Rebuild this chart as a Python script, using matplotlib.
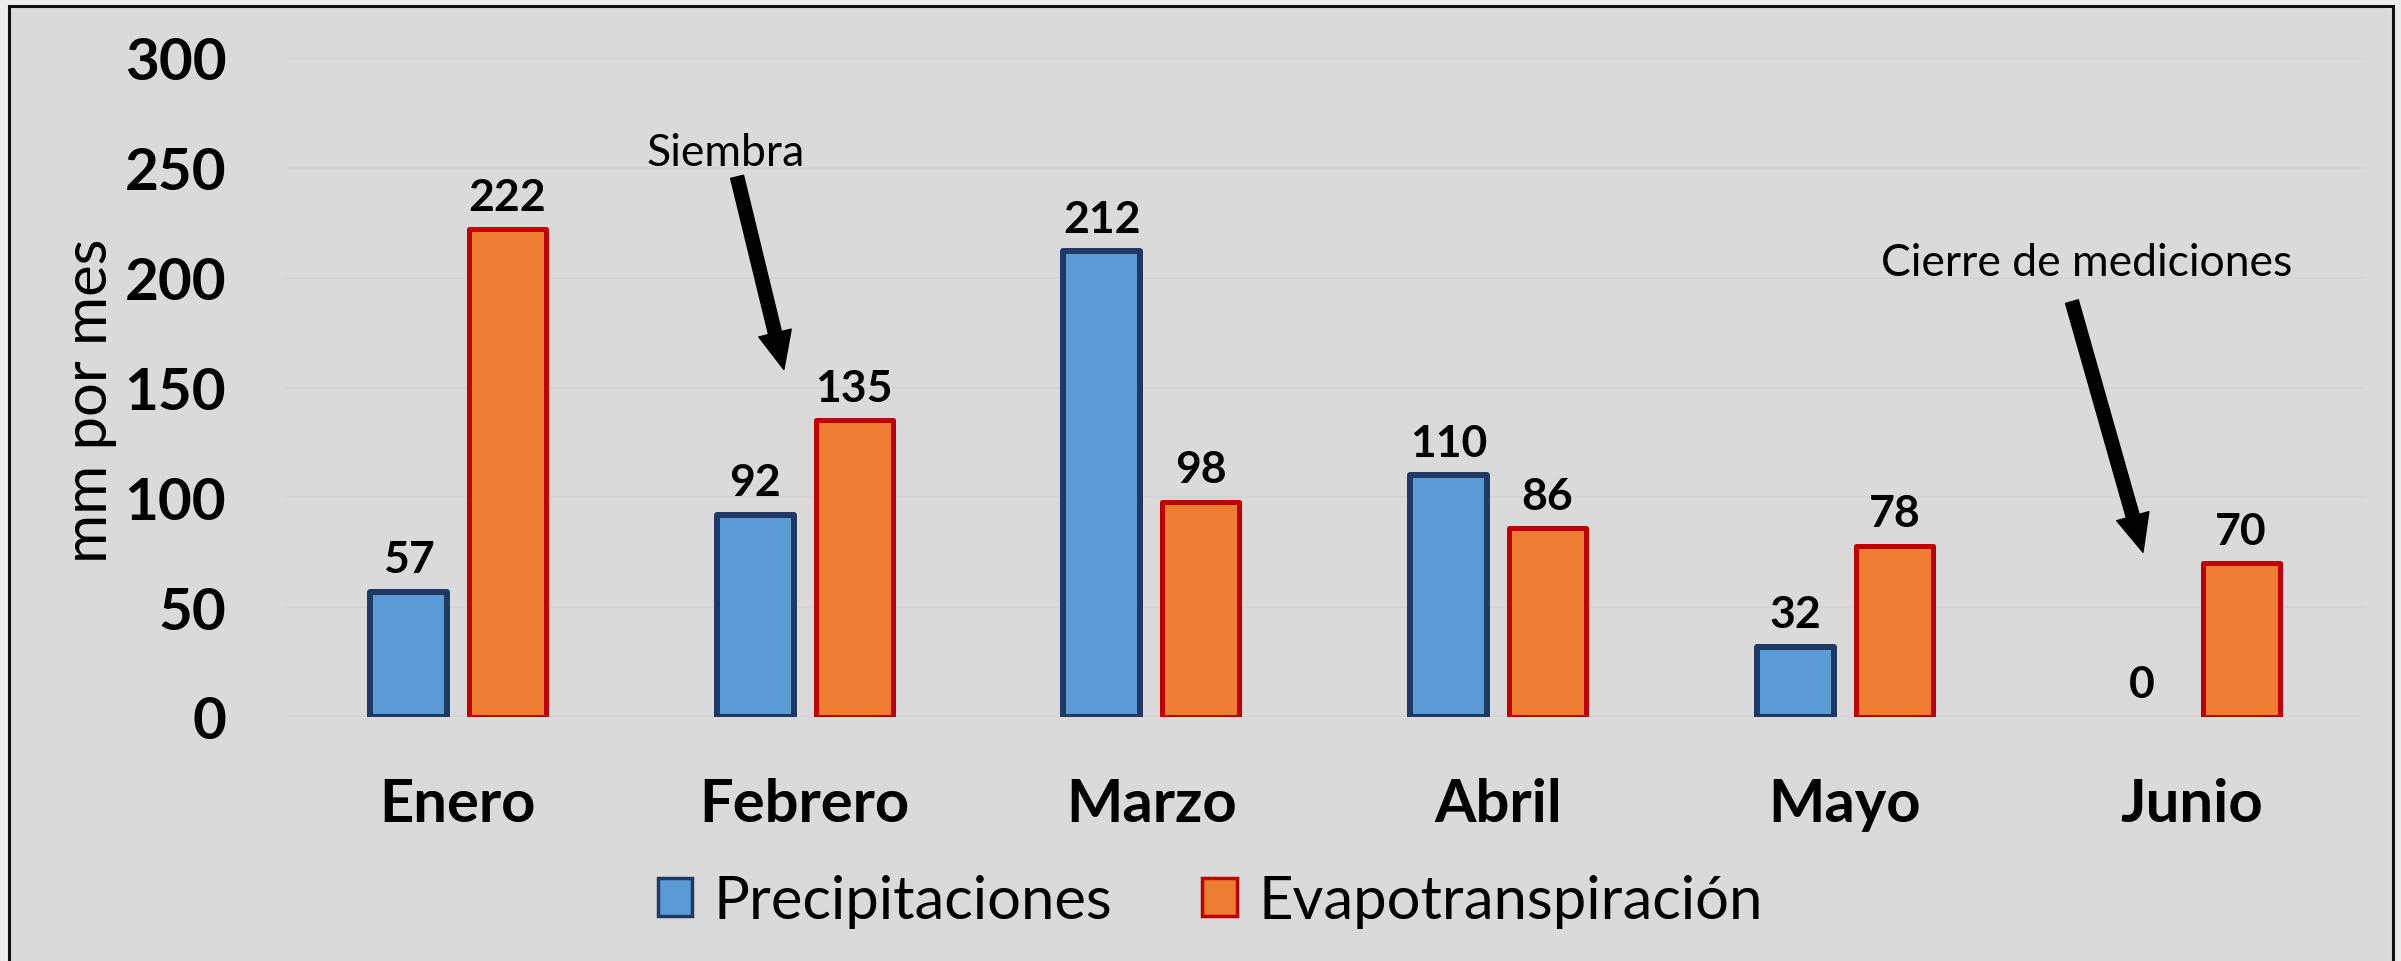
import numpy as np
import matplotlib
matplotlib.use("Agg")
import matplotlib.pyplot as plt
from matplotlib.patches import Rectangle, Patch

# ---- data ----
months = ["Enero", "Febrero", "Marzo", "Abril", "Mayo", "Junio"]
precipitaciones = [57, 92, 212, 110, 32, 0]
evapotranspiracion = [222, 135, 98, 86, 78, 70]
yticks = [0, 50, 100, 150, 200, 250, 300]
series_names = ["Precipitaciones", "Evapotranspiración"]

plt.rcParams['font.family'] = ['Lato', 'DejaVu Sans']

W, H = 2401, 962
fig = plt.figure(figsize=(W / 100, H / 100), dpi=100)
fig.patch.set_facecolor('#ECECEA')

# outer frame
frame = Rectangle((9 / W, -0.02), (2393 - 9) / W, 1 - 7 / H + 0.02,
                  transform=fig.transFigure, facecolor='#DADADA',
                  edgecolor='#111111', lw=2.2, zorder=-5)
fig.patches.append(frame)

ax = fig.add_axes([284.6 / W, 1 - 718 / H, (2364.9 - 284.6) / W, (718 - 59) / H])
ax.set_facecolor('none')
ax.set_zorder(2)
for s in ax.spines.values():
    s.set_visible(False)

x = np.arange(len(months))
off = 0.1427
bw = 0.222
b1 = ax.bar(x - off, precipitaciones, bw, color='#5B9BD5', edgecolor='#1F3864',
            lw=4.3, zorder=3, joinstyle='round')
b2 = ax.bar(x + off, evapotranspiracion, bw, color='#ED7D31', edgecolor='#C00000',
            lw=3.6, zorder=3, joinstyle='round')
for bars in (b1, b2):
    for p in bars.patches:
        if p.get_height() == 0:
            p.set_linewidth(0)

for xs, vals in ((x - off, precipitaciones), (x + off, evapotranspiracion)):
    for xi, v in zip(xs, vals):
        ax.annotate(str(v), (xi, v), xytext=(0, 9), textcoords='offset points',
                    ha='center', va='bottom', fontsize=32, fontweight='bold',
                    color='black', zorder=4)

ax.set_xlim(-0.5, len(months) - 0.5)
ax.set_ylim(0, 300)
ax.set_yticks(yticks)
ax.set_yticklabels([str(t) for t in yticks], fontsize=42, fontweight='bold')
ax.set_xticks(x)
ax.set_xticklabels(months, fontsize=43, fontweight='bold')
ax.tick_params(axis='y', length=0, pad=42)
ax.tick_params(axis='x', length=0, pad=43)
ax.yaxis.grid(True, color='#D3D3D3', lw=1.2, zorder=0)
ax.set_axisbelow(True)

fig.text(90 / W, 1 - 401 / H, 'mm por mes', rotation=90, fontsize=43,
         ha='center', va='center')

# annotations
ax.annotate('', xy=(0.940, 158.2), xytext=(0.805, 245.9),
            arrowprops=dict(width=9.5, headwidth=24, headlength=27,
                            color='black', shrink=0), zorder=5)
ax.text(0.773, 256.8, 'Siembra', fontsize=32, ha='center', va='center', zorder=5)

ax.annotate('', xy=(4.860, 75), xytext=(4.655, 189.1),
            arrowprops=dict(width=9.5, headwidth=24, headlength=27,
                            color='black', shrink=0), zorder=5)
ax.text(4.699, 206.8, 'Cierre de mediciones', fontsize=32, ha='center',
        va='center', zorder=5)

handles = [Patch(facecolor='#5B9BD5', edgecolor='#1F3864', lw=2.5),
           Patch(facecolor='#ED7D31', edgecolor='#C00000', lw=2.5)]
fig.legend(handles, series_names, loc='center', bbox_to_anchor=(0.504, 1 - 902 / H),
           bbox_transform=fig.transFigure, ncol=2, frameon=False, fontsize=43,
           handlelength=0.58, handleheight=0.62, handletextpad=0.36,
           columnspacing=1.5)

fig.savefig('out.png', dpi=100, facecolor=fig.get_facecolor())
